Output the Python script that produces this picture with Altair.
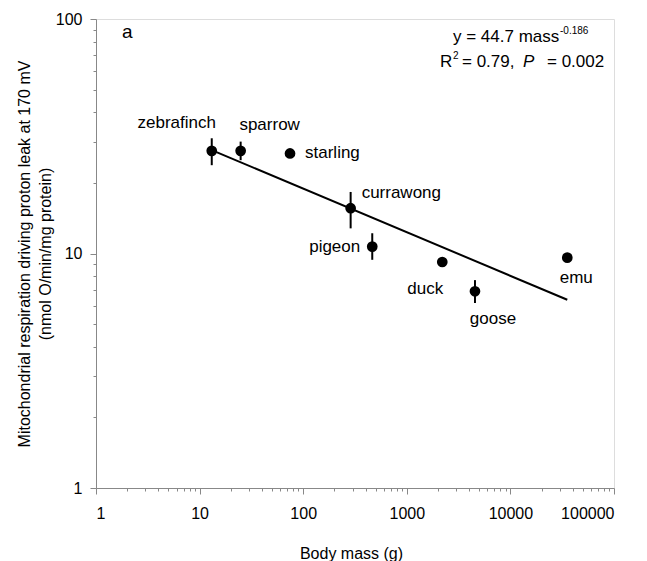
import altair as alt
import pandas as pd

# ---- data ----
species = ["zebrafinch", "sparrow", "starling", "currawong", "pigeon", "duck", "goose", "emu"]
mass = [13.1, 24.9, 74.6, 287, 464, 2200, 4550, 35400]
leak = [27.4, 27.4, 26.7, 15.6, 10.7, 9.2, 6.9, 9.6]

err_species = ["zebrafinch", "sparrow", "currawong", "pigeon", "goose"]
err_lo = [23.8, 25.0, 12.8, 9.4, 6.15]
err_hi = [31.0, 30.0, 18.3, 12.2, 7.7]

fit_mass = [13.1, 35400]
fit_leak = [27.6, 6.35]

x_major = [1, 10, 100, 1000, 10000, 100000]
y_major = [1, 10, 100]

# label placement styles (pixels relative to the point)
lab_dx = [-35, 29, 15, 11, -12, -17, 18, 9]
lab_dy = [-28, -26, 0, -15, 0, 27, 28, 20]
lab_align = ["center", "center", "left", "left", "right", "center", "center", "center"]

pts = pd.DataFrame({"species": species, "mass": mass, "leak": leak})
mass_of = dict(zip(species, mass))
errs = pd.DataFrame({"species": err_species,
                     "mass": [mass_of[s] for s in err_species],
                     "lo": err_lo, "hi": err_hi})
fit = pd.DataFrame({"mass": fit_mass, "leak": fit_leak})

x_ticks = [m * k for m in x_major[:-1] for k in range(1, 10)] + [x_major[-1]]
y_ticks = [m * k for m in y_major[:-1] for k in range(1, 10)] + [y_major[-1]]

FONT = "Liberation Sans"
xmaj = "indexof(%s, datum.value) >= 0" % str(x_major)
ymaj = "indexof(%s, datum.value) >= 0" % str(y_major)

xscale = alt.Scale(type="log", domain=[1, 100000], nice=False)
yscale = alt.Scale(type="log", domain=[1, 100], nice=False)

xaxis = alt.Axis(values=x_ticks, format="d",
                 labelExpr="%s ? datum.label : ''" % xmaj,
                 tickSize={"condition": {"test": xmaj, "value": 6}, "value": 3},
                 labelPadding=11, labelFontSize=16, titleFontSize=16,
                 titleFontWeight="normal", titleX=255, titleY=70,
                 titleBaseline="alphabetic", titleAlign="center",
                 grid=False)
yaxis = alt.Axis(values=y_ticks, format="d",
                 labelExpr="%s ? datum.label : ''" % ymaj,
                 tickSize={"condition": {"test": ymaj, "value": 6}, "value": 3},
                 labelPadding=8, labelFontSize=16, titleFontSize=16,
                 titleFontWeight="normal", titleX=-72, titleY=234.5,
                 titleBaseline="middle", titleAlign="center", titleLineHeight=21,
                 grid=False)

XT = "Body mass (g)"
YT = ["Mitochondrial respiration driving proton leak at 170 mV", "(nmol O/min/mg protein)"]


def X(field):
    return alt.X(field, type="quantitative", scale=xscale, axis=xaxis, title=XT)


def Y(field):
    return alt.Y(field, type="quantitative", scale=yscale, axis=yaxis, title=YT)


line = alt.Chart(fit).mark_line(color="black", strokeWidth=2).encode(x=X("mass"), y=Y("leak"))
bars = alt.Chart(errs).mark_rule(color="black", strokeWidth=2).encode(
    x=X("mass"), y=Y("lo"), y2="hi")
dots = alt.Chart(pts).mark_circle(color="black", opacity=1, size=115).encode(
    x=X("mass"), y=Y("leak"))

labels = []
for s, dx, dy, al in zip(species, lab_dx, lab_dy, lab_align):
    labels.append(
        alt.Chart(pts).transform_filter(alt.datum.species == s)
        .mark_text(dx=dx, dy=dy, align=al, baseline="middle", font=FONT, fontSize=17, color="black")
        .encode(x=X("mass"), y=Y("leak"), text="species:N")
    )

# annotation texts
ann_text = ["a", "y = 44.7 mass", "-0.186", "R", "2", "= 0.79,", "P", "= 0.002"]
ann_x = [26, 357, 464, 344, 357, 366, 427, 451]
ann_y = [13, 18, 12, 43, 37, 43, 43, 43]
ann_size = [19, 17, 10, 17, 10, 17, 17, 17]
ann_style = ["normal", "normal", "normal", "normal", "normal", "normal", "italic", "normal"]

anns = []
for t, ax, ay, fs, st in zip(ann_text, ann_x, ann_y, ann_size, ann_style):
    anns.append(
        alt.Chart(pd.DataFrame({"t": [t]})).mark_text(
            align="left", baseline="middle", font=FONT, fontSize=fs, fontStyle=st, color="black")
        .encode(x=alt.value(ax), y=alt.value(ay), text="t:N")
    )

chart = alt.layer(line, bars, dots, *labels, *anns).properties(
    width=518, height=469,
    padding={"left": 96, "top": 19, "right": 33, "bottom": 73},
    autosize=alt.AutoSizeParams(type="none"),
).configure_view(stroke=None).configure_axis(
    domainColor="black", domainWidth=1.5, tickColor="black", tickWidth=1.5,
    labelColor="black", titleColor="black", labelFont=FONT, titleFont=FONT,
).configure(background="white")

chart.save("out.html", embed_options={"renderer": "svg", "actions": False})
